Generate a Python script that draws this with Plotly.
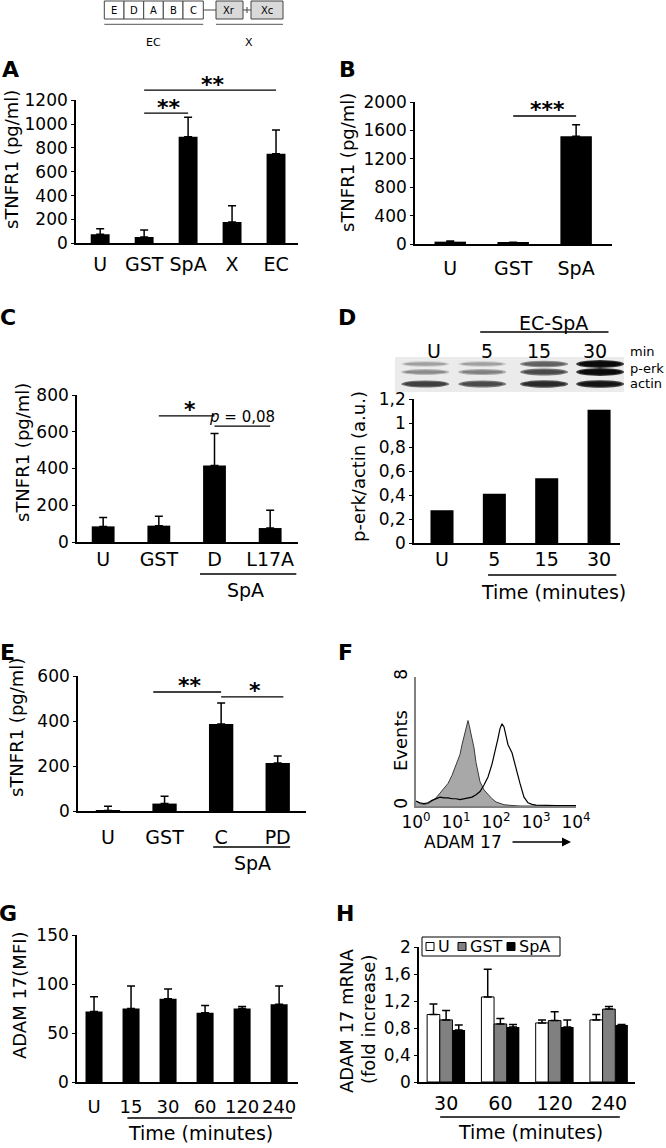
import numpy as np
import plotly.graph_objects as go

W, H = 666, 1148
FONT = "DejaVu Sans"
TICK = 17
CAT = 19
TTL = 18

# ---------------- data ----------------
a_cats = ["U", "GST", "SpA", "X", "EC"]
a_vals = [75, 53, 895, 179, 752]
a_sem = [48, 59, 162, 137, 199]
a_sig = [(1, 2, 1093, "**"), (1, 4, 1286, "**")]

b_cats = ["U", "GST", "SpA"]
b_vals = [33, 15, 1518]
b_sem = [10, 10, 163]
b_sig = [(1, 2, 1803, "***")]

c_cats = ["U", "GST", "D", "L17A"]
c_vals = [85, 89, 416, 76]
c_sem = [48, 51, 175, 97]
c_sig = [(1, 2, 686, "*"), (2, 3, 631, "<i>p</i> = 0,08")]

d_cats = ["U", "5", "15", "30"]
d_vals = [0.273, 0.41, 0.539, 1.11]
d_lanes = [-0.32, 0.77, 1.95, 3.02]
d_lane_labels = [-0.15, 0.86, 1.85, 2.93]
d_perk_upper = [0.3, 0.3, 0.6, 1.0]
d_perk_lower = [0.4, 0.45, 0.7, 1.0]
d_actin = [0.75, 0.7, 0.85, 0.95]

e_cats = ["U", "GST", "C", "PD"]
e_vals = [2, 33, 387, 213]
e_sem = [19, 32, 93, 31]
e_sig = [(0.8, 2.0, 529, "**"), (2.0, 3.1, 507, "*")]

f_ctrl_log = [0.0, 0.1, 0.2, 0.3, 0.4, 0.5, 0.6, 0.7, 0.8, 0.9, 1.0, 1.1, 1.15, 1.2, 1.25,
              1.3, 1.33, 1.36, 1.4, 1.45, 1.5, 1.55, 1.6, 1.7, 1.8, 1.9, 2.0, 2.1, 2.2,
              2.4, 2.6, 3.0, 3.5, 4.0]
f_ctrl = [0.3, 0.15, 0.1, 0.15, 0.3, 0.5, 0.8, 1.1, 1.4, 1.9, 2.5, 3.2, 3.8, 4.3, 4.9,
          5.3, 5.0, 4.6, 4.3, 3.6, 2.7, 2.0, 1.5, 1.0, 0.7, 0.45, 0.25, 0.15, 0.08,
          0.03, 0.0, 0.0, 0.0, 0.0]
f_adam_log = [0.0, 0.1, 0.2, 0.3, 0.4, 0.5, 0.6, 0.7, 0.8, 0.9, 1.0, 1.1, 1.2, 1.3, 1.4,
              1.5, 1.6, 1.7, 1.8, 1.9, 2.0, 2.05, 2.1, 2.15, 2.2, 2.25, 2.3, 2.4, 2.5,
              2.6, 2.7, 2.8, 2.9, 3.0, 3.5, 4.0]
f_adam = [0.3, 0.2, 0.15, 0.2, 0.35, 0.45, 0.55, 0.5, 0.5, 0.45, 0.45, 0.4, 0.45, 0.5, 0.55,
          0.7, 0.9, 1.3, 1.8, 2.6, 3.6, 4.2, 4.8, 5.1, 4.9, 4.4, 3.8, 3.3, 2.3,
          1.4, 0.55, 0.2, 0.1, 0.05, 0.03, 0.02]

g_cats = ["U", "15", "30", "60", "120", "240"]
g_vals = [72, 75, 85, 70.6, 75, 79.4]
g_sem = [15, 23, 10, 7.4, 2, 18.6]

h_cats = ["30", "60", "120", "240"]
h_names = ["U", "GST", "SpA"]
h_U = [1.0, 1.26, 0.875, 0.92]
h_U_sem = [0.155, 0.41, 0.045, 0.08]
h_GST = [0.92, 0.86, 0.91, 1.08]
h_GST_sem = [0.14, 0.08, 0.13, 0.04]
h_SpA = [0.77, 0.815, 0.815, 0.845]
h_SpA_sem = [0.075, 0.035, 0.105, 0.008]
h_colors = ["white", "#808080", "black"]

# ---------------- layout geometry (pixels) ----------------
PANELS = {
    "A": dict(i=1, l=76, r=298, t=100.3, b=243.3, xr=[-0.55, 4.5], yr=[0, 1200], std=3, cat=CAT),
    "B": dict(i=2, l=415, r=612, t=102, b=244, xr=[-0.56, 2.57], yr=[0, 2000], std=6, cat=CAT),
    "C": dict(i=3, l=77, r=298, t=395, b=542, xr=[-0.47, 3.5], yr=[0, 800], std=-1, cat=CAT),
    "D": dict(i=4, l=414, r=620, t=399, b=543, xr=[-0.535, 3.4], yr=[0, 1.2], std=-2, cat=CAT),
    "E": dict(i=5, l=78, r=306, t=676, b=811, xr=[-0.53, 3.5], yr=[0, 600], std=8, cat=CAT),
    "F": dict(i=6, l=416, r=576, t=677, b=806, xr=[0, 4], yr=[0, 8], std=0, cat=TICK),
    "G": dict(i=7, l=77, r=298, t=935, b=1082, xr=[-0.46, 5.51], yr=[0, 150], std=8, cat=18),
    "H": dict(i=8, l=419, r=635, t=947, b=1082, xr=[-0.5, 3.48], yr=[0, 2], std=3, cat=CAT),
}


def dx(p, v):
    P = PANELS[p]
    x0, x1 = P["xr"]
    return P["l"] + (v - x0) / (x1 - x0) * (P["r"] - P["l"])


def dy(p, v):
    P = PANELS[p]
    y0, y1 = P["yr"]
    return P["b"] - (v - y0) / (y1 - y0) * (P["b"] - P["t"])


shapes = []
annotations = []


def line(x0, y0, x1, y1, w=1.3, color="black"):
    shapes.append(dict(type="line", xref="paper", yref="paper", x0=x0 / W, y0=1 - y0 / H,
                       x1=x1 / W, y1=1 - y1 / H, line=dict(color=color, width=w)))


def rect(x0, y0, x1, y1, fill, lw=0, lc="black", kind="rect"):
    shapes.append(dict(type=kind, xref="paper", yref="paper", x0=x0 / W, y0=1 - y0 / H,
                       x1=x1 / W, y1=1 - y1 / H, fillcolor=fill,
                       line=dict(color=lc, width=lw)))


def txt(x, y, s, size=TICK, bold=False, angle=0, xanchor="center", color="black"):
    if bold:
        s = "<b>" + s + "</b>"
    annotations.append(dict(x=x / W, y=1 - y / H, xref="paper", yref="paper", text=s,
                            showarrow=False, xanchor=xanchor, yanchor="middle",
                            textangle=angle, font=dict(family=FONT, size=size, color=color)))


fig = go.Figure()


def ax_ids(p):
    i = PANELS[p]["i"]
    return ("x" if i == 1 else f"x{i}"), ("y" if i == 1 else f"y{i}")


def bars(p, vals, sem=None, width=0.43, color="black", offset=None, name=None):
    xa, ya = ax_ids(p)
    kw = {}
    if offset is not None:
        kw["offset"] = offset
    err = None
    if sem is not None:
        err = dict(type="data", array=sem, arrayminus=[0] * len(sem), symmetric=False,
                   color="black", thickness=1.5, width=4)
    fig.add_trace(go.Bar(x=list(range(len(vals))), y=vals, width=width, xaxis=xa, yaxis=ya,
                         marker=dict(color=color, line=dict(color="black", width=1 if color != "black" else 0)),
                         error_y=err, showlegend=False, name=name or p, **kw))


def sig(p, specs, size=22):
    for x0, x1, yv, lab in specs:
        px0, px1, py = dx(p, x0), dx(p, x1), dy(p, yv)
        line(px0, py, px1, py)
        if lab.startswith("<i>"):
            txt((px0 + px1) / 2, py - 9, lab, size=15)
        else:
            txt((px0 + px1) / 2 + 3, py - 6, "<b>" + lab + "</b>", size=size)


# ---------------- panels ----------------
bars("A", a_vals, a_sem, width=0.43)
sig("A", a_sig)
bars("B", b_vals, b_sem, width=0.5)
sig("B", b_sig)
bars("C", c_vals, c_sem, width=0.41)
sig("C", c_sig)
bars("D", d_vals, None, width=0.44)
bars("E", e_vals, e_sem, width=0.43)
sig("E", e_sig)
bars("G", g_vals, g_sem, width=0.46)
for k, (vals, sem) in enumerate([(h_U, h_U_sem), (h_GST, h_GST_sem), (h_SpA, h_SpA_sem)]):
    bars("H", vals, sem, width=0.233, color=h_colors[k], offset=-0.35 + 0.233 * k, name=h_names[k])

xa, ya = ax_ids("F")
fig.add_trace(go.Scatter(x=[10 ** v for v in f_ctrl_log], y=f_ctrl, mode="lines", fill="tozeroy",
                         fillcolor="#a8a8a8", line=dict(color="#3a3a3a", width=1),
                         xaxis=xa, yaxis=ya, showlegend=False))
fig.add_trace(go.Scatter(x=[10 ** v for v in f_adam_log], y=f_adam, mode="lines",
                         line=dict(color="black", width=1.2), xaxis=xa, yaxis=ya, showlegend=False))

# ---------------- axes ----------------
layout_axes = {}
cats_map = {"A": a_cats, "B": b_cats, "C": c_cats, "D": d_cats, "E": e_cats, "G": g_cats, "H": h_cats}
yticks = {
    "A": ([0, 200, 400, 600, 800, 1000, 1200], None),
    "B": ([0, 400, 800, 1200, 1600, 2000], None),
    "C": ([0, 200, 400, 600, 800], None),
    "D": ([0, 0.2, 0.4, 0.6, 0.8, 1.0, 1.2], ["0", "0,2", "0,4", "0,6", "0,8", "1", "1,2"]),
    "E": ([0, 200, 400, 600], None),
    "G": ([0, 50, 100, 150], None),
    "H": ([0, 0.4, 0.8, 1.2, 1.6, 2.0], ["0", "0,4", "0,8", "1,2", "1,6", "2"]),
}
for p, P in PANELS.items():
    i = P["i"]
    xk = "xaxis" if i == 1 else f"xaxis{i}"
    yk = "yaxis" if i == 1 else f"yaxis{i}"
    xa, ya = ax_ids(p)
    xd = [P["l"] / W, P["r"] / W]
    yd = [1 - P["b"] / H, 1 - P["t"] / H]
    if p == "F":
        layout_axes[xk] = dict(domain=xd, anchor=ya, type="log", range=P["xr"], showline=True,
                               linecolor="#808080", linewidth=1.5, showgrid=False, zeroline=False,
                               ticks="", tickvals=[1, 10, 100, 1000, 10000], tickangle=0,
                               ticktext=["10<sup>0</sup>", "10<sup>1</sup>", "10<sup>2</sup>",
                                         "10<sup>3</sup>", "10<sup>4</sup>"],
                               tickfont=dict(family=FONT, size=TICK, color="black"),
                               ticklabelstandoff=P["std"], automargin=False)
        layout_axes[yk] = dict(domain=yd, anchor=xa, range=P["yr"], showline=True,
                               linecolor="#808080", linewidth=1.5, showgrid=False, zeroline=False,
                               ticks="", tickvals=[0, 8], tickangle=-90, automargin=False,
                               tickfont=dict(family=FONT, size=TICK, color="black"))
        continue
    cats = cats_map[p]
    tv, tt = yticks[p]
    layout_axes[xk] = dict(domain=xd, anchor=ya, range=P["xr"], showline=True, linecolor="black",
                           linewidth=1.6, showgrid=False, zeroline=False, ticks="",
                           tickvals=list(range(len(cats))), ticktext=cats, tickangle=0,
                           tickfont=dict(family=FONT, size=P["cat"], color="black"),
                           ticklabelstandoff=P["std"], automargin=False)
    layout_axes[yk] = dict(domain=yd, anchor=xa, range=P["yr"], showline=True, linecolor="black",
                           linewidth=1.6, showgrid=False, zeroline=False, ticks="outside",
                           ticklen=3, tickwidth=1.3, tickcolor="black", tickvals=tv,
                           ticktext=tt if tt else [str(v) for v in tv], automargin=False,
                           tickfont=dict(family=FONT, size=TICK, color="black"))

# ---------------- decorations ----------------
# top domain diagram
dom_labels = ["E", "D", "A", "B", "C"]
edges = [104.3, 124, 143.7, 163.3, 183, 203.3]
for k, lab in enumerate(dom_labels):
    rect(edges[k], 1, edges[k + 1], 19, "white", lw=1, lc="#444")
    txt((edges[k] + edges[k + 1]) / 2, 10, lab, size=10)
line(203.3, 10, 216, 10, w=1, color="#444")
rect(216, 1, 243, 19, "#d9d9d9", lw=1, lc="#444")
txt(229.5, 10, "Xr", size=10)
line(243, 10, 251, 10, w=1, color="#444")
line(247, 7, 247, 13, w=1, color="#444")
rect(251, 1, 283, 19, "#d9d9d9", lw=1, lc="#444")
txt(267, 10, "Xc", size=10)
line(104.3, 24.3, 203.3, 24.3, w=1, color="#555")
line(216, 24.3, 283, 24.3, w=1, color="#555")
txt(153, 43, "EC", size=11)
txt(249, 43, "X", size=11)

# panel letters
for lab, x, y in [("A", 10, 69), ("B", 347, 69), ("C", 8, 317), ("D", 347, 317),
                  ("E", 7, 652), ("F", 345, 652), ("G", 8, 913), ("H", 345, 913)]:
    txt(x, y, lab, size=22, bold=True)

# y-axis titles
txt(12, 160, "sTNFR1 (pg/ml)", size=TTL, angle=-90)
txt(347, 163, "sTNFR1 (pg/ml)", size=TTL, angle=-90)
txt(22, 453, "sTNFR1 (pg/ml)", size=TTL, angle=-90)
txt(358, 467, "p-erk/actin (a.u.)", size=TTL, angle=-90)
txt(16, 728, "sTNFR1 (pg/ml)", size=TTL, angle=-90)
txt(400, 741, "Events", size=TTL, angle=-90)
txt(19, 995, "ADAM 17(MFI)", size=TTL, angle=-90)
txt(346, 1020, "ADAM 17 mRNA", size=TTL, angle=-90)
txt(368, 1020, "(fold increase)", size=TTL, angle=-90)

# group lines / sub labels
line(dx("C", 1.74), 574, dx("C", 3.47), 574)
txt(245, 590, "SpA", size=CAT)
line(dx("E", 1.86), 847, dx("E", 3.22), 847)
txt(252, 863, "SpA", size=CAT)
line(dx("D", 0.88), 575, dx("D", 3.33), 575)
txt(553, 592, "Time (minutes)", size=CAT)
line(dx("G", 0.9), 1118, dx("G", 5.35), 1118)
txt(200, 1133, "Time (minutes)", size=CAT)
line(dx("H", -0.11), 1117, dx("H", 3.2), 1117)
txt(530, 1132, "Time (minutes)", size=CAT)

# panel D gel
rect(395, 357, 624, 392, "#ebebeb")
band_rows = [(364, d_perk_upper), (372, d_perk_lower), (384, d_actin)]
for yc, dens in band_rows:
    for k, lp in enumerate(d_lanes):
        xc = dx("D", lp)
        d = dens[k]
        g = int(225 - 215 * d)
        hgt = 2.4 + 3.0 * d
        gl = min(g + 45, 225)
        rect(xc - 24, yc - hgt / 2 - 1.2, xc + 24, yc + hgt / 2 + 1.2, f"rgb({gl},{gl},{gl})", kind="circle")
        rect(xc - 21, yc - hgt / 2, xc + 21, yc + hgt / 2, f"rgb({g},{g},{g})", kind="circle")
for k, lab in enumerate(d_cats):
    txt(dx("D", d_lane_labels[k]), 351, lab, size=CAT)
txt(628, 351, "min", size=13, xanchor="left")
txt(628, 368, "p-erk", size=13, xanchor="left")
txt(628, 383, "actin", size=13, xanchor="left")
line(dx("D", 0.73), 332, dx("D", 3.18), 332)
txt(553, 323, "EC-SpA", size=CAT)

# panel F x label + arrow
txt(463, 842, "ADAM 17", size=TICK)
annotations.append(dict(x=571 / W, y=1 - 842 / H, xref="paper", yref="paper", text="",
                        showarrow=True, ax=-60, ay=0, arrowhead=2, arrowsize=1.2,
                        arrowwidth=1.5, arrowcolor="black"))

# panel H legend (manual)
rect(422, 937, 560, 956, "white", lw=1, lc="black")
leg_x = [426, 458, 507]
for k, nm in enumerate(h_names):
    rect(leg_x[k], 942.5, leg_x[k] + 8, 950.5, h_colors[k], lw=1, lc="black")
    txt(leg_x[k] + 10, 946.5, nm, size=16, xanchor="left")

fig.update_layout(width=W, height=H, margin=dict(l=0, r=0, t=0, b=0),
                  paper_bgcolor="white", plot_bgcolor="white", showlegend=False,
                  barmode="overlay", shapes=shapes, annotations=annotations,
                  font=dict(family=FONT, color="black"), **layout_axes)
fig.write_html("out.html", config={"displayModeBar": False},
               post_script="document.body.style.margin='0';document.body.style.overflow='hidden';")
